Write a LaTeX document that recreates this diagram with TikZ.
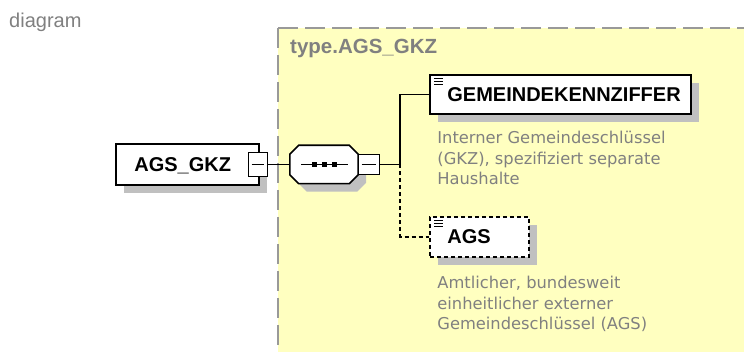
\documentclass[tikz,border=0pt]{standalone}
\usepackage{fontspec}
\setmainfont{Liberation Sans}
\newfontfamily\descfont{DejaVu Sans}
\usetikzlibrary{calc,shadows}
\definecolor{yellowc}{HTML}{FFFFC0}
\definecolor{shadowc}{HTML}{C0C0C0}
\definecolor{bordergray}{HTML}{999999}
\definecolor{textgray}{HTML}{808080}
\begin{document}
\begin{tikzpicture}[x=1pt,y=-1pt,
  shadowed/.style={drop shadow={shadow xshift=8pt, shadow yshift=-8pt, fill=shadowc, opacity=1}},
  elbox/.style={draw=black, fill=white, line width=1.6pt, inner sep=0pt},
  optbox/.style={elbox, dash pattern=on 4pt off 3pt},
  btn/.style={draw=black, fill=white, line width=1pt, inner sep=0pt},
  conn/.style={line width=1.2pt},
  optconn/.style={conn, dash pattern=on 4pt off 3pt},
  lbl/.style={font=\fontsize{20pt}{24pt}\selectfont\bfseries, anchor=base west, inner sep=0pt},
  titlelbl/.style={font=\fontsize{20.5pt}{24pt}\selectfont\bfseries, text=textgray, anchor=base west, inner sep=0pt},
  desc/.style={font=\descfont\fontsize{16.3pt}{20.5pt}\selectfont, text=textgray, anchor=base west, inner sep=0pt, align=left},
  icon/.style={line width=1pt},
]
\useasboundingbox (0,0) rectangle (744,352);
% caption
\node[font=\fontsize{20pt}{24pt}\selectfont, text=textgray, anchor=base west, inner sep=0pt] (cap) at (9,28) {diagram};
% type container
\fill[yellowc] (278,28) rectangle (744,352);
\draw[bordergray, line width=1.5pt, dash pattern=on 20pt off 7pt] (278,28) -- (744,28);
\draw[bordergray, line width=1.5pt, dash pattern=on 20pt off 7pt] (278,28) -- (278,352);
\node[titlelbl] (typelbl) at (290,54) {type.AGS\_GKZ};
% root element
\node[elbox, shadowed, minimum width=143pt, minimum height=41pt] (root) at (187.5,164.5) {};
\node[lbl] (rootlbl) at ($(root.north west)+(19,28)$) {AGS\_GKZ};
\node[btn, minimum width=19pt, minimum height=24pt] (rootbtn) at (257.5,164.5) {};
\draw[icon] ([xshift=4pt]rootbtn.west) -- ([xshift=-4pt]rootbtn.east);
% sequence compositor
\node[inner sep=0pt, minimum width=68pt, minimum height=38pt] (seq) at (324,164.5) {};
\draw[elbox, shadowed]
  ($(seq.north west)+(9,0)$) -- ($(seq.north east)+(-9,0)$) -- ($(seq.north east)+(0,9)$)
  -- ($(seq.south east)+(0,-9)$) -- ($(seq.south east)+(-9,0)$) -- ($(seq.south west)+(9,0)$)
  -- ($(seq.south west)+(0,-9)$) -- ($(seq.north west)+(0,9)$) -- cycle;
\draw[icon] ($(seq.center)+(-23,0)$) -- ($(seq.center)+(24,0)$);
\foreach \dx in {-10,0,10}{
  \fill ($(seq.center)+(\dx-2.5,-2.5)$) rectangle ($(seq.center)+(\dx+2.5,2.5)$);
}
\node[btn, minimum width=21pt, minimum height=20pt] (seqbtn) at (368.5,164.5) {};
\draw[icon] ([xshift=4pt]seqbtn.west) -- ([xshift=-4pt]seqbtn.east);
% child elements
\node[elbox, shadowed, minimum width=261pt, minimum height=39pt] (gem) at (560.5,94.5) {};
\node[lbl] (gemlbl) at ($(gem.north west)+(18,27)$) {GEMEINDEKENNZIFFER};
\foreach \dy in {4,7,10}{
  \draw[icon] ($(gem.north west)+(5,\dy)$) -- +(9,0);
}
% base anchor of a multi-line node lies on its last line
\node[desc] (gemdesc) at ($(gem.south west)+(8,70)$) {Interner Gemeindeschlüssel\\(GKZ), spezifiziert separate\\Haushalte};

\node[optbox, shadowed, minimum width=99pt, minimum height=40pt] (ags) at (479.5,237) {};
\node[lbl] (agslbl) at ($(ags.north west)+(18,27)$) {AGS};
\foreach \dy in {4,7,10}{
  \draw[icon] ($(ags.north west)+(5,\dy)$) -- +(9,0);
}
\node[desc] (agsdesc) at ($(ags.south west)+(8,72)$) {Amtlicher, bundesweit\\einheitlicher externer\\Gemeindeschlüssel (AGS)};
% connectors
\coordinate (fork) at (400,164.5);
\draw[conn] (rootbtn.east) -- (seq.west);
\draw[conn] (seqbtn.east) -- (fork);
\draw[conn] (fork) |- (gem.west);
\draw[optconn] (fork) |- (ags.west);
\end{tikzpicture}
\end{document}
